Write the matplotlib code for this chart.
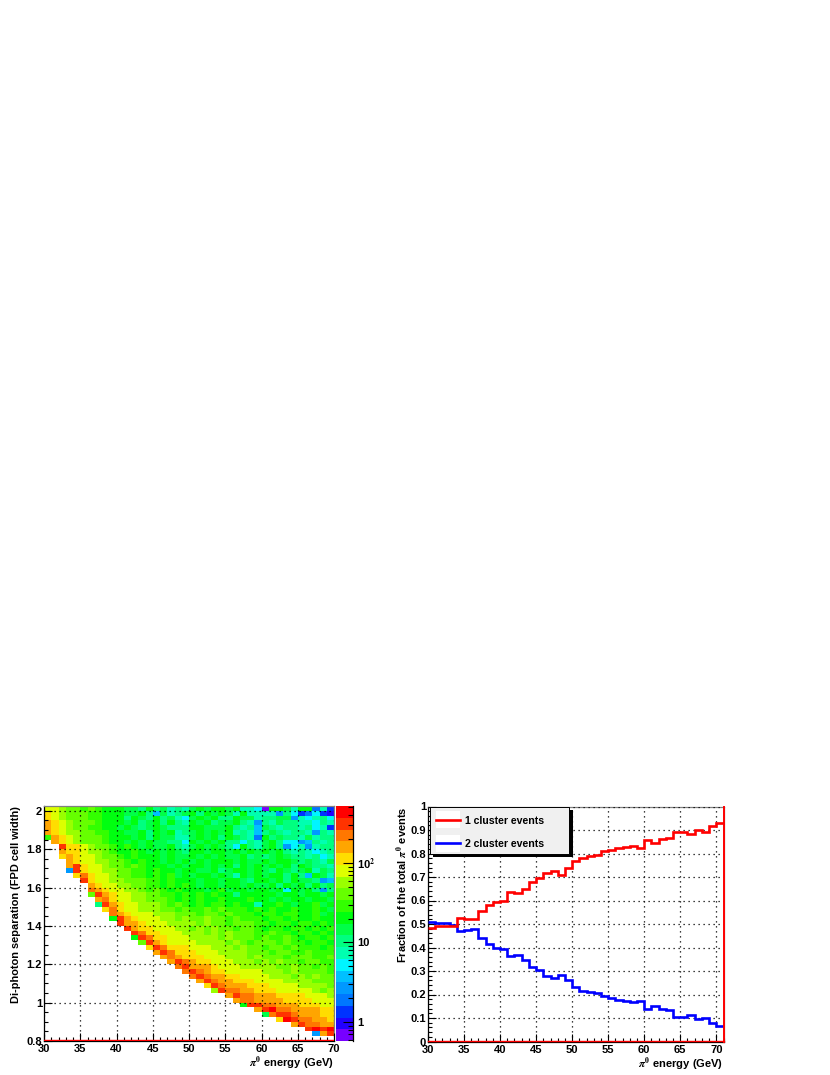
import numpy as np
import matplotlib
matplotlib.use("Agg")
import matplotlib.pyplot as plt
from matplotlib.colors import ListedColormap, BoundaryNorm
from matplotlib.patches import Rectangle
from matplotlib.ticker import MultipleLocator, FixedLocator, NullFormatter

W, H = 830, 1075

ENERGY_EDGES_LEFT = np.arange(30, 71, 1)
SEP_EDGES = 0.8 + 0.025 * np.arange(50)

# palette class of every cell (0..9,a..j, bottom to top of the colour bar), top row first
CELL_CLASSES = [
"eedccbcbaa a998a89787 9a9aa9a776 0aa97aa372",
"fedcccbbaa a99a859789 a8a9a97a77 7748623621",
"fedcccbbaa a8a98a8976 9a9a88a997 8899476786",
"gfedcccbaa a9a89a8a87 a9a899a874 8798877687",
"gfedccbbaa 9a989a9888 aa999a8785 9878878672",
"gfeddccbba a99a8a9a78 9a9a9a7875 8987887487",
"bgfedcccba aa9a8a9977 9a9a8a9873 a898879788",
".gfedcccba a9a9a99886 a9a9a88687 9a86645878",
"..iffedccb aba9a99a87 9a9a986a87 9a84674788",
"..gffeddcb aaba9a9a98 aa9aa9a9a9 a9a8787678",
"..fgfeedcc babaaa9a99 a9a9a99a89 89a9887867",
"...gfeeddc cbabaa9a9a 9a9aaa9a99 a9aa989879",
"...gifeedc cbcbaaa9a9 aa9a9a8a9a 9a9a8a9887",
"...4ifeedd ccbbabaa9a a99a89aa9a 98a989a798",
"....fhfeed ccbbabab9a 9aa9a97a9a 9aa8a85a97",
".....ifeed dcccbbabaa a9aa9aa98a a9a8a99845",
"......gfee ddccbbabab a9aa9aa9a9 9a8a9a8a89",
"......hgfe eddcbcbaba aa9ab9aa9a a9a6a9a848",
"......cigf eeddccbbab ababaa8aaa aa9aa9aa9a",
".......ghf eeddcccbab abaabaaaba a9a9aa9aa9",
".......8ig feedddcbcb ababbabaa7 aaba9aab9a",
"........fh feedddccbc bbcbcbbbab abaabaaba9",
".........h gfeeedddcc cbccbcbbba bbabbaab9a",
".........a igfeeeddcd ccdccbcbbb abbabaabaa",
".......... iggfeeeddd dcdccbcccb babbabbaba",
".......... .igffeeedd cdcdccbccb abbabbabab",
".......... ..ihffeeed ddcdcdcccb bcbbabbaba",
".......... ..aihffeee ddddcdcccb cbbcbabbab",
".......... ...cigfeee eddddcdcbc ccbcbbabba",
".......... ....fihfff eeedddcdcc bccbcbbbab",
".......... .....gihff feeeddddcc cbccbbcbbb",
".......... ......ghgf ffeeedddcd cccbcccbbc",
".......... .......gih gffeeedddc dcdccbccbb",
".......... ........hi gggfeeeddd ddccdccbcb",
".......... .........h ihgffeeeee dddcdccccb",
".......... .......... hihggffeee edddcdcdcc",
".......... .......... .gihggfffe eeeddddccc",
".......... .......... ..fihgggff feeeeddddc",
".......... .......... ...dihhggf ffeeeeedcd",
".......... .......... .....gihhg ggffffeeed",
".......... .......... ......ghhg gggffffeee",
".......... .......... .......aii hhgggfffee",
".......... .......... .........g ijhhggggff",
".......... .......... .......... 9hiihgggff",
".......... .......... .......... ..fjihhggf",
".......... .......... .......... ....gihhgg",
".......... .......... .......... ......ijij",
".......... .......... .......... .......4gi",
".......... .......... .......... ..........",
]

PALETTE = ["#7700ff", "#2200ff", "#0033ff", "#0077ff", "#0099ff", "#00c0ff", "#00f5ff",
           "#00ffb0", "#00ff80", "#00ff48", "#00ff10", "#33ff00", "#66ff00", "#99ff00",
           "#ddff00", "#ffdd00", "#ffa500", "#ff7700", "#ff3300", "#ff0000"]
CBAR_RANGE = (0.577, 520.0)

E_EDGES_RIGHT = np.arange(30, 72, 1)
ONE_CLUSTER = [.485, .49, .49, .49, .525, .522, .52, .555, .58, .595,
               .60, .635, .63, .65, .68, .695, .715, .727, .71, .738,
               .767, .78, .79, .795, .81, .817, .822, .826, .83, .825,
               .857, .843, .86, .868, .893, .893, .885, .90, .893, .917, .93]
TWO_CLUSTER = [.51, .505, .505, .495, .47, .473, .48, .44, .415, .40,
               .395, .365, .37, .345, .315, .305, .28, .27, .285, .26,
               .232, .217, .21, .207, .192, .185, .175, .172, .168, .174,
               .14, .152, .137, .132, .106, .106, .112, .097, .10, .08, .068]
LEGEND_LABELS = ["1 cluster events", "2 cluster events"]

XLABEL = r"$\pi^0$ energy (GeV)"
YLABEL_L = "Di-photon separation (FPD cell width)"
YLABEL_R = r"Fraction of the total $\pi^0$ events"

plt.rcParams.update({"font.family": "Liberation Sans", "font.weight": "bold",
                     "axes.labelweight": "bold", "mathtext.fontset": "stix"})
FS = 8.0
fig = plt.figure(figsize=(W / 100, H / 100), dpi=100)


def box(x0, y0, x1, y1):
    return [x0 / W, 1 - y1 / H, (x1 - x0) / W, (y1 - y0) / H]


def style(ax):
    ax.spines["top"].set_color("#808080")
    ax.spines["right"].set_color("#808080")
    ax.spines["left"].set_color("black")
    ax.spines["bottom"].set_color("black")
    for s in ax.spines.values():
        s.set_linewidth(0.9)
    ax.tick_params(which="major", direction="in", length=6, width=0.8, top=False, right=False,
                   labelsize=FS, pad=1.5)
    ax.tick_params(axis="x", which="major", pad=2.5)
    ax.tick_params(which="minor", direction="in", length=3, width=0.8, top=False, right=False)
    ax.set_axisbelow(False)
    ax.grid(True, which="major", color="black", linestyle=(0, (1, 3)), linewidth=0.9)


def labels(ax, x_px, axw, y_label):
    ax.set_xlabel(XLABEL, fontsize=FS, ha="right", va="center")
    ax.xaxis.set_label_coords(1.0, -22.5 / 235)
    ax.set_ylabel(y_label, fontsize=FS * 0.985, ha="right", va="center")
    ax.yaxis.set_label_coords(x_px / axw, 1.0)


# ---- left: 2-D histogram
rows = [r.replace(" ", "").ljust(40, ".")[:40] for r in CELL_CLASSES]
lookup = "0123456789abcdefghij"
edges_c = np.logspace(np.log10(CBAR_RANGE[0]), np.log10(CBAR_RANGE[1]), len(PALETTE) + 1)
centers_c = np.sqrt(edges_c[:-1] * edges_c[1:])
Z = np.full((len(rows), 40), np.nan)
for i, r in enumerate(rows):
    for j, ch in enumerate(r):
        if ch != ".":
            Z[i, j] = centers_c[lookup.index(ch)]
Z = Z[::-1]
cmap = ListedColormap(PALETTE)
norm = BoundaryNorm(edges_c, cmap.N)

ax = fig.add_axes(box(44, 806, 334, 1041))
ax.pcolormesh(ENERGY_EDGES_LEFT, SEP_EDGES, Z, cmap=cmap, norm=norm)
ax.set_xlim(30, 70)
ax.set_ylim(0.8, 2.025)
style(ax)
ax.xaxis.set_major_locator(MultipleLocator(5))
ax.xaxis.set_minor_locator(MultipleLocator(1))
ax.yaxis.set_major_locator(MultipleLocator(0.2))
ax.yaxis.set_minor_locator(MultipleLocator(0.05))
ax.set_xticks(np.arange(30, 71, 5))
ax.set_xticklabels([str(v) for v in range(30, 71, 5)])
ax.set_yticks(np.arange(0.8, 2.01, 0.2))
ax.set_yticklabels(["0.8", "1", "1.2", "1.4", "1.6", "1.8", "2"])
ax.axhline(0.8045, color="red", lw=1.0, zorder=4)
labels(ax, -27.5, 290.0, YLABEL_L)

# ---- colour bar
cax = fig.add_axes(box(336, 806, 353, 1041))
cax.pcolormesh([0, 1], edges_c, np.array(centers_c)[:, None], cmap=cmap, norm=norm)
cax.set_yscale("log")
cax.set_ylim(*CBAR_RANGE)
cax.set_xlim(0, 1)
cax.set_xticks([])
for n in ("top", "left", "bottom"):
    cax.spines[n].set_visible(False)
cax.spines["right"].set_linewidth(0.9)
cax.yaxis.tick_right()
cax.yaxis.set_major_locator(FixedLocator([1, 10, 100]))
cax.set_yticklabels(["1", "10", r"10$^{2}$"])
cax.yaxis.set_minor_locator(FixedLocator(
    [m * d for d in (0.1, 1, 10, 100) for m in range(2, 10) if CBAR_RANGE[0] < m * d < CBAR_RANGE[1]]))
cax.yaxis.set_minor_formatter(NullFormatter())
cax.tick_params(which="major", axis="y", direction="in", length=7, width=0.8, labelsize=FS, pad=3,
                right=True, left=False)
cax.tick_params(which="minor", axis="y", direction="in", length=3.5, width=0.8, right=True, left=False)

# ---- right: fractions
ar = fig.add_axes(box(428, 806.5, 723.5, 1041.5))
ar.set_xlim(30, 71)
ar.set_ylim(0, 1)
style(ar)
ar.set_xticks(np.arange(30, 71, 5))
ar.set_xticklabels([str(v) for v in range(30, 71, 5)])
ar.xaxis.set_minor_locator(MultipleLocator(1))
ar.set_yticks(np.arange(0, 1.01, 0.1))
ar.set_yticklabels(["0", "0.1", "0.2", "0.3", "0.4", "0.5", "0.6", "0.7", "0.8", "0.9", "1"])
ar.yaxis.set_minor_locator(MultipleLocator(0.02))
ar.stairs(TWO_CLUSTER, E_EDGES_RIGHT, color="#0000ff", lw=1.9, baseline=None, zorder=3)
ar.stairs(ONE_CLUSTER, E_EDGES_RIGHT, color="#ff0000", lw=1.9, baseline=None, zorder=3)
ar.plot([71, 71], [1, 0], color="red", lw=1.4, zorder=4, clip_on=False)
ar.plot([71, 30], [0.003, 0.003], color="red", lw=1.0, zorder=4, clip_on=False)
labels(ar, -25.5, 295.5, YLABEL_R)


def px(x, y):
    return x / W, 1 - y / H


for rect, fc, ec, z in [((433, 810, 140, 47), "black", "none", 5),
                        ((430, 807, 139, 47), "#f0f0f0", "black", 6),
                        ((436, 811, 24, 17), "white", "none", 7),
                        ((436, 835, 24, 17), "white", "none", 7)]:
    x, y, w, h = rect
    fig.add_artist(Rectangle(px(x, y + h), w / W, h / H, transform=fig.transFigure,
                             facecolor=fc, edgecolor=ec, linewidth=0.7, zorder=z))
for label, color, y, ty in zip(LEGEND_LABELS, ["red", "#0000ff"], [819.5, 843], [820.5, 844]):
    fig.add_artist(plt.Line2D([436 / W, 460 / W], [1 - y / H] * 2, color=color, lw=1.9, zorder=8))
    fig.text(465 / W, 1 - ty / H, label, fontsize=FS * 0.95, va="center", ha="left", zorder=8)

fig.savefig("out.png", dpi=100)
